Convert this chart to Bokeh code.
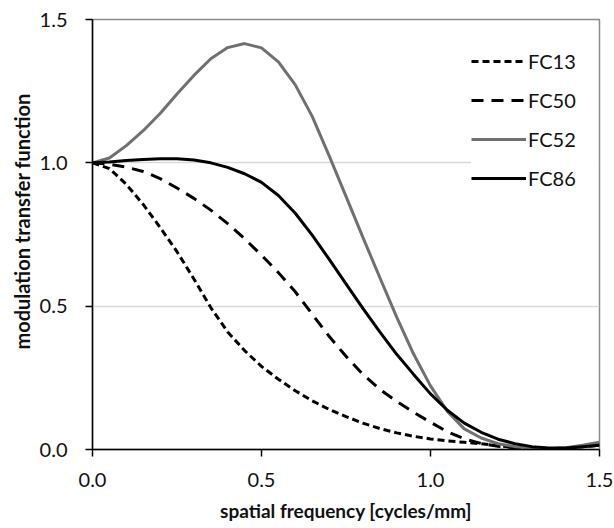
from bokeh.plotting import figure
from bokeh.models import Legend, LegendItem, Title, FixedTicker, CustomJSTickFormatter
from bokeh.embed import file_html
from bokeh.resources import INLINE

freq = [0.0, 0.05, 0.1, 0.15, 0.2, 0.25, 0.3, 0.35, 0.4, 0.45, 0.5, 0.55, 0.6, 0.65, 0.7, 0.75,
        0.8, 0.85, 0.9, 0.95, 1.0, 1.05, 1.1, 1.15, 1.2, 1.25, 1.3, 1.35, 1.4, 1.45, 1.5]

fc13 = [1.0, 0.98, 0.925, 0.855, 0.775, 0.69, 0.595, 0.495, 0.41, 0.345, 0.29, 0.245, 0.205, 0.17, 0.14, 0.115,
        0.092, 0.073, 0.058, 0.046, 0.037, 0.03, 0.025, 0.02, 0.013, 0.007, 0.003, 0.001, 0.004, 0.01, 0.016]
fc50 = [1.0, 0.995, 0.985, 0.97, 0.945, 0.912, 0.876, 0.835, 0.788, 0.735, 0.678, 0.617, 0.55, 0.472, 0.395, 0.325,
        0.262, 0.21, 0.168, 0.13, 0.095, 0.062, 0.037, 0.021, 0.011, 0.006, 0.003, 0.003, 0.005, 0.01, 0.015]
fc52 = [1.0, 1.017, 1.06, 1.112, 1.172, 1.24, 1.305, 1.363, 1.402, 1.416, 1.401, 1.352, 1.272, 1.162, 1.025, 0.883,
        0.74, 0.6, 0.462, 0.333, 0.222, 0.133, 0.072, 0.04, 0.02, 0.01, 0.005, 0.003, 0.006, 0.015, 0.025]
fc86 = [1.0, 1.003, 1.008, 1.012, 1.014, 1.014, 1.01, 1.0, 0.984, 0.962, 0.932, 0.886, 0.824, 0.748, 0.664, 0.578,
        0.492, 0.41, 0.332, 0.262, 0.194, 0.137, 0.092, 0.06, 0.036, 0.02, 0.01, 0.005, 0.005, 0.01, 0.015]

series_names = ["FC13", "FC50", "FC52", "FC86"]
ticks = [0.0, 0.5, 1.0, 1.5]

FONT = "Lato"

p = figure(width=614, height=528, x_range=(0, 1.5), y_range=(0, 1.5),
           output_backend="svg", toolbar_location=None,
           min_border_left=92, min_border_right=15, min_border_top=19, min_border_bottom=79)

p.outline_line_color = "#8a8a8a"
p.outline_line_width = 1.5
p.background_fill_color = "white"
p.border_fill_color = "white"

p.xgrid.visible = False
p.ygrid.ticker = FixedTicker(ticks=ticks)
p.ygrid.grid_line_color = "#d9d9d9"
p.ygrid.grid_line_width = 1.5

for ax in (p.xaxis[0], p.yaxis[0]):
    ax.ticker = FixedTicker(ticks=ticks)
    ax.axis_line_color = "black"
    ax.axis_line_width = 1.5
    ax.major_tick_line_color = "black"
    ax.major_tick_line_width = 1.5
    ax.major_tick_out = 7
    ax.major_tick_in = 0
    ax.minor_tick_line_color = None
    ax.major_label_text_font = FONT
    ax.major_label_text_font_size = "20px"
    ax.major_label_text_color = "#111111"
    ax.formatter = CustomJSTickFormatter(code="return tick.toFixed(1);")

p.xaxis[0].major_label_standoff = 16
p.yaxis[0].major_label_standoff = 18

p.xaxis[0].axis_label = "spatial frequency [cycles/mm]"
p.xaxis[0].axis_label_text_font = FONT
p.xaxis[0].axis_label_text_font_style = "bold"
p.xaxis[0].axis_label_text_font_size = "19px"
p.xaxis[0].axis_label_standoff = 9
p.xaxis[0].axis_label_text_color = "#111111"

ytitle = Title(text="modulation transfer function", align="left", offset=100,
               text_font=FONT, text_font_style="bold", text_font_size="20px",
               text_color="#111111", standoff=5)
p.add_layout(ytitle, "left")

r13 = p.line(freq, fc13, line_color="black", line_width=3, line_dash="7 4")
r50 = p.line(freq, fc50, line_color="black", line_width=3, line_dash="12 8")
r52 = p.line(freq, fc52, line_color="#707070", line_width=3)
r86 = p.line(freq, fc86, line_color="black", line_width=3)

legend = Legend(items=[LegendItem(label=series_names[0], renderers=[r13]),
                       LegendItem(label=series_names[1], renderers=[r50]),
                       LegendItem(label=series_names[2], renderers=[r52]),
                       LegendItem(label=series_names[3], renderers=[r86])],
                location=(379, 259), glyph_width=55, glyph_height=20,
                label_standoff=2, spacing=15, padding=10, label_width=70,
                label_text_font=FONT, label_text_font_size="20px",
                label_text_color="#111111",
                border_line_color=None, background_fill_color="white",
                background_fill_alpha=1.0)
p.add_layout(legend, "center")

open("out.html", "w").write(file_html(p, INLINE))
